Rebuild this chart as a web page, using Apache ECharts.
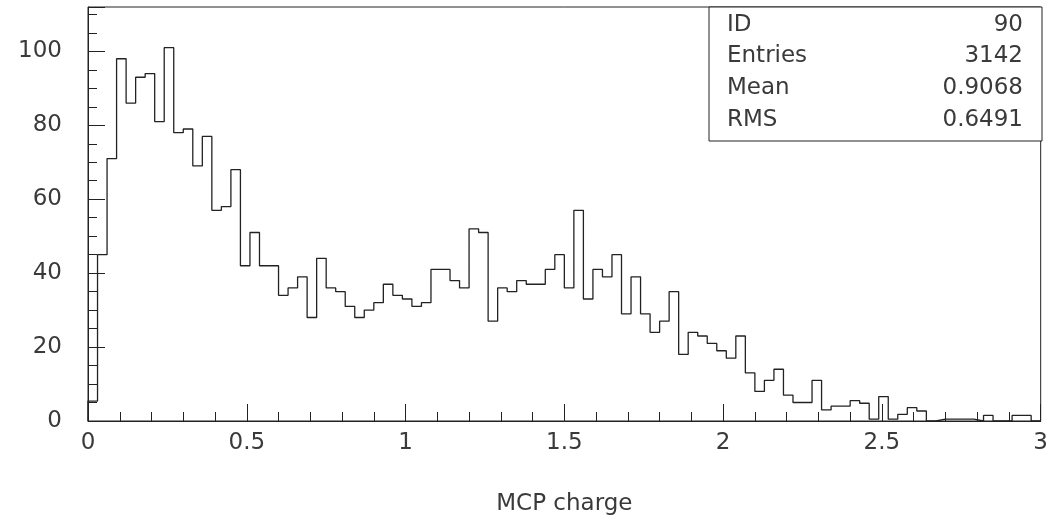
<!doctype html>
<html>
<head>
<meta charset="utf-8">
<title>MCP charge</title>
<script src="https://cdn.jsdelivr.net/npm/echarts@6/dist/echarts.min.js"></script>
<style>
html, body { margin: 0; padding: 0; background: #fff; }
#div_chart { width: 1051px; height: 521px; }
</style>
</head>
<body>
<div id="div_chart"></div>
<script>
// histogram range and bin contents (100 bins from 0 to 3)
var xMin = 0, xMax = 3;
var counts = [
  5.4, 45, 71, 98, 86, 93, 94, 81, 101, 78,
  79, 69, 77, 57, 58, 68, 42, 51, 42, 42,
  34, 36, 39, 28, 44, 36, 35, 31, 28, 30,
  32, 37, 34, 33, 31, 32, 41, 41, 38, 36,
  52, 51, 27, 36, 35, 38, 37, 37, 41, 45,
  36, 57, 33, 41, 39, 45, 29, 39, 29, 24,
  27, 35, 18, 24, 23, 21, 19, 17, 23, 13,
  8, 11, 14, 7, 5, 5, 11, 3, 4, 4,
  5.5, 4.8, 0.5, 6.6, 0.5, 1.8, 3.6, 2.7, 0, 0.5,
  0.5, 0.5, 0.5, 0, 1.5, 0, 0, 1.5, 1.5, 0
];
var yMax = 112;
var statNames = ['ID', 'Entries', 'Mean', 'RMS'];
var statValues = ['90', '3142', '0.9068', '0.6491'];
var xTitle = 'MCP charge';

var ink = '#222';
var textInk = '#3a3a3a';
var font = 'DejaVu Sans';

// step outline of the histogram
var binW = (xMax - xMin) / counts.length;
var steps = [[xMin, 0]];
for (var i = 0; i < counts.length; i++) {
  steps.push([xMin + i * binW, counts[i]]);
}
steps.push([xMax, counts[counts.length - 1]]);
steps.push([xMax, 0]);

// stats box
var graphics = [{
  type: 'rect',
  shape: { x: 709, y: 7, width: 333, height: 134 },
  style: { fill: '#fff', stroke: ink, lineWidth: 1 },
  z: 100
}];
var rowY = [25, 56, 88, 120];
for (var j = 0; j < statNames.length; j++) {
  graphics.push({
    type: 'text', x: 727, y: rowY[j], z: 101,
    style: { text: statNames[j], fill: textInk, font: '23px "' + font + '"', textAlign: 'left', textVerticalAlign: 'middle' }
  });
  graphics.push({
    type: 'text', x: 1023, y: rowY[j], z: 101,
    style: { text: statValues[j], fill: textInk, font: '23px "' + font + '"', textAlign: 'right', textVerticalAlign: 'middle' }
  });
}

var myChart = echarts.init(document.getElementById('div_chart'));
var option = {
  animation: false,
  backgroundColor: '#fff',
  grid: {
    left: 88, right: 9, top: 7, bottom: 97,
    show: true, borderColor: ink, borderWidth: 1, backgroundColor: 'transparent'
  },
  xAxis: [{
    type: 'value', min: xMin, max: xMax, interval: 0.5, position: 'bottom',
    axisLine: { show: true, lineStyle: { color: ink, width: 1 } },
    axisTick: { show: true, inside: true, length: 17, lineStyle: { color: ink, width: 1 } },
    minorTick: { show: true, splitNumber: 5, length: 9, lineStyle: { color: ink, width: 1 } },
    axisLabel: { color: textInk, fontSize: 23, fontFamily: font, margin: 11 },
    splitLine: { show: false },
    name: xTitle, nameLocation: 'middle', nameGap: 72,
    nameTextStyle: { color: textInk, fontSize: 23, fontFamily: font }
  }],
  yAxis: [{
    type: 'value', min: 0, max: yMax, interval: 20, position: 'left',
    axisLine: { show: true, lineStyle: { color: ink, width: 1 } },
    axisTick: { show: true, inside: true, length: 17, lineStyle: { color: ink, width: 1 } },
    axisLabel: {
      color: textInk, fontSize: 23, fontFamily: font, margin: 26,
      formatter: function (v) { return v % 20 === 0 ? String(v) : ''; }
    },
    splitLine: { show: false }
  }, {
    type: 'value', min: 0, max: yMax, interval: 5, position: 'left',
    axisLine: { show: false },
    axisTick: { show: true, inside: true, length: 9, lineStyle: { color: ink, width: 1 } },
    axisLabel: { show: false },
    splitLine: { show: false }
  }],
  series: [{
    type: 'line',
    step: 'end',
    xAxisIndex: 0, yAxisIndex: 0,
    data: steps,
    symbol: 'none',
    lineStyle: { color: ink, width: 1.3 },
    silent: true
  }],
  graphic: graphics
};
myChart.setOption(option);
</script>
</body>
</html>
